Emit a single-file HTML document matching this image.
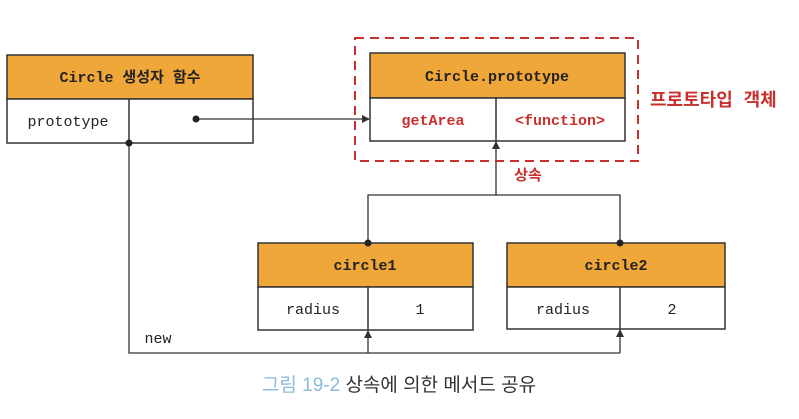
<!DOCTYPE html>
<html><head><meta charset="utf-8"><style>
body{margin:0;background:#fff;}
svg text{font-family:"Liberation Mono","Noto Sans CJK KR",monospace;}
</style></head><body>
<svg width="799" height="414" viewBox="0 0 799 414" xmlns="http://www.w3.org/2000/svg">
<defs><marker id="a" markerWidth="8" markerHeight="8" refX="7" refY="4" orient="auto" markerUnits="userSpaceOnUse"><path d="M0,0 L8,4 L0,8 z" fill="#333"/></marker></defs>
<g stroke="#333" stroke-width="1.5">
<rect x="7" y="55" width="246" height="44" fill="#f0a73a"/>
<rect x="7" y="99" width="246" height="44" fill="#fff"/>
<line x1="129" y1="99" x2="129" y2="143"/>
<rect x="370" y="53" width="255" height="45" fill="#f0a73a"/>
<rect x="370" y="98" width="255" height="43" fill="#fff"/>
<line x1="496" y1="98" x2="496" y2="141"/>
<rect x="258" y="243" width="215" height="44" fill="#f0a73a"/>
<rect x="258" y="287" width="215" height="43" fill="#fff"/>
<line x1="368" y1="287" x2="368" y2="330"/>
<rect x="507" y="243" width="218" height="44" fill="#f0a73a"/>
<rect x="507" y="287" width="218" height="42" fill="#fff"/>
<line x1="620" y1="287" x2="620" y2="329"/>
<g fill="none" stroke-width="1.3">
<line x1="196" y1="119" x2="369" y2="119" marker-end="url(#a)"/>
<line x1="496" y1="195" x2="496" y2="142" marker-end="url(#a)"/>
<polyline points="368,243 368,195 620,195 620,243"/>
<polyline points="129,143 129,353 620,353"/>
<line x1="368" y1="353" x2="368" y2="331" marker-end="url(#a)"/>
<line x1="620" y1="353" x2="620" y2="330" marker-end="url(#a)"/>
</g>
</g>
<rect x="355" y="38" width="283" height="123" fill="none" stroke="#c8302e" stroke-width="2" stroke-dasharray="9,6"/>
<g fill="#222"><circle cx="196" cy="119" r="3.5"/><circle cx="129" cy="143" r="3.5"/><circle cx="368" cy="243" r="3.5"/><circle cx="620" cy="243" r="3.5"/></g>
<g font-size="15" text-anchor="middle" fill="#222">
<text x="130" y="82" font-weight="bold">Circle 생성자 함수</text>
<text x="68" y="126">prototype</text>
<text x="497" y="81" font-weight="bold">Circle.prototype</text>
<text x="433" y="125" font-weight="bold" fill="#c8302e">getArea</text>
<text x="560" y="125" font-weight="bold" fill="#c8302e">&lt;function&gt;</text>
<text x="365" y="270" font-weight="bold">circle1</text>
<text x="616" y="270" font-weight="bold">circle2</text>
<text x="313" y="314">radius</text>
<text x="420" y="314">1</text>
<text x="563" y="314">radius</text>
<text x="672" y="314">2</text>
<text x="158" y="343">new</text>
<text x="528" y="180" font-weight="bold" fill="#c8302e">상속</text>
</g>
<text x="650" y="106" font-size="18" font-weight="bold" fill="#c8302e">프로토타입 객체</text>
<text x="399" y="391" font-size="19" text-anchor="middle" style="font-family:'Liberation Sans','Noto Sans CJK KR',sans-serif" fill="#333"><tspan fill="#8bbbd8">그림 19-2</tspan> 상속에 의한 메서드 공유</text>
</svg>
</body></html>
